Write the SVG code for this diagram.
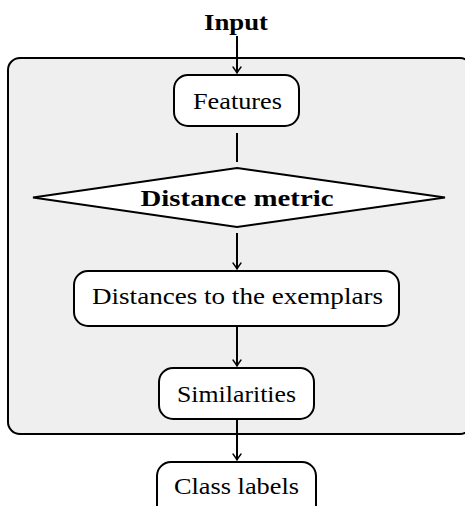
<svg xmlns="http://www.w3.org/2000/svg" width="465" height="506" viewBox="0 0 465 506">
  <style>
    .node { fill: #ffffff; stroke: #000000; stroke-width: 2; }
    .frame { fill: #efefef; stroke: #000000; stroke-width: 2; }
    .lbl { font-family: "Liberation Serif", "Times New Roman", serif; font-size: 23px; fill: #000000; text-anchor: middle; }
    .bold { font-weight: bold; }
    .edge { fill: none; stroke: #000000; stroke-width: 2; }
  </style>
  <defs>
    <marker id="arrow" viewBox="-8 -5 10 10" refX="0" refY="0" markerWidth="10" markerHeight="10" markerUnits="userSpaceOnUse" orient="auto">
      <path d="M-6,-4 Q-2,-1 0,0 Q-2,1 -6,4" fill="none" stroke="#000000" stroke-width="1.4" stroke-linecap="round"/>
    </marker>
  </defs>

  <!-- processing block -->
  <g id="block">
    <rect class="frame" x="8" y="58" width="464" height="376" rx="12"/>
  </g>

  <!-- connectors -->
  <g id="connectors">
    <line class="edge" x1="237" y1="36" x2="237" y2="73" marker-end="url(#arrow)"/>
    <line class="edge" x1="237" y1="133" x2="237" y2="162"/>
    <line class="edge" x1="237" y1="233" x2="237" y2="269" marker-end="url(#arrow)"/>
    <line class="edge" x1="237" y1="326" x2="237" y2="366" marker-end="url(#arrow)"/>
    <line class="edge" x1="237" y1="419" x2="237" y2="460" marker-end="url(#arrow)"/>
  </g>

  <g id="input">
    <text class="lbl bold" x="236" y="30" textLength="64" lengthAdjust="spacingAndGlyphs">Input</text>
  </g>

  <g id="features">
    <rect class="node" x="174" y="75" width="125" height="51" rx="14"/>
    <text class="lbl" x="237.5" y="109" textLength="89" lengthAdjust="spacingAndGlyphs">Features</text>
  </g>

  <g id="distance-metric">
    <polygon class="node" points="237,168 445,197.5 237,227 33,197.5"/>
    <text class="lbl bold" x="237" y="206" textLength="193" lengthAdjust="spacingAndGlyphs">Distance metric</text>
  </g>

  <g id="distances">
    <rect class="node" x="74" y="271" width="325" height="55" rx="14"/>
    <text class="lbl" x="237.5" y="304" textLength="291" lengthAdjust="spacingAndGlyphs">Distances to the exemplars</text>
  </g>

  <g id="similarities">
    <rect class="node" x="159" y="368" width="155" height="51" rx="14"/>
    <text class="lbl" x="236.5" y="402" textLength="119" lengthAdjust="spacingAndGlyphs">Similarities</text>
  </g>

  <g id="class-labels">
    <rect class="node" x="157" y="462" width="159" height="60" rx="14"/>
    <text class="lbl" x="236.5" y="494" textLength="125" lengthAdjust="spacingAndGlyphs">Class labels</text>
  </g>
</svg>
